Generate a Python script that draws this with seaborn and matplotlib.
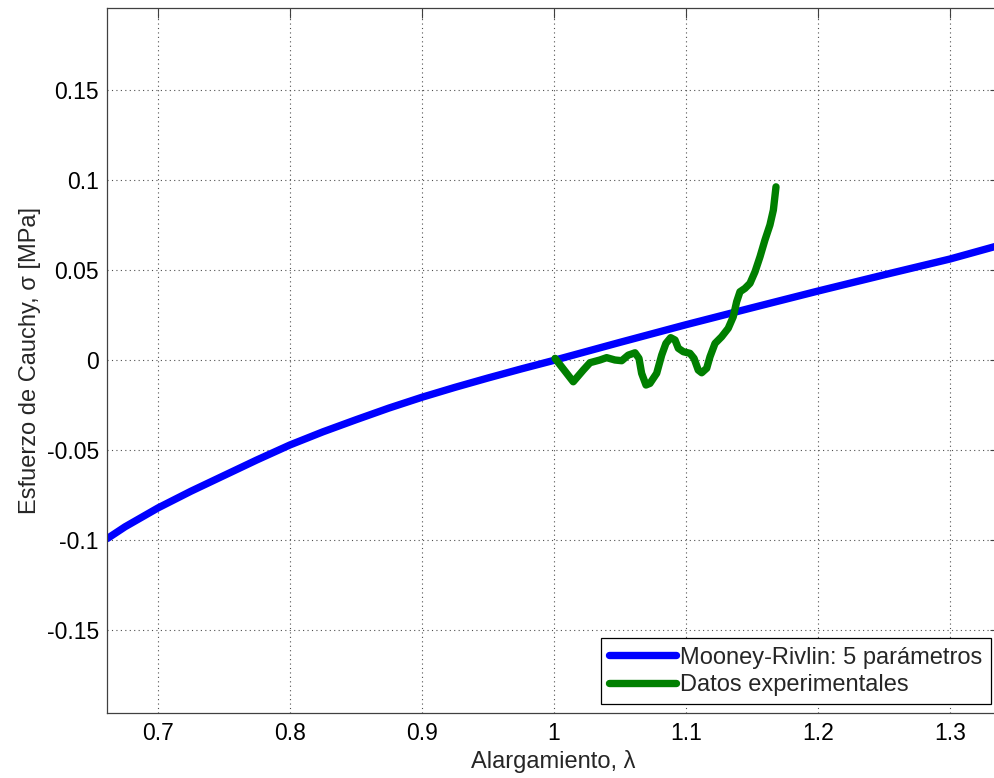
import matplotlib
matplotlib.use("Agg")
import matplotlib.pyplot as plt
import seaborn as sns
import pandas as pd

# Mooney-Rivlin (5 parameters) model curve
lam_model = [0.6616, 0.675, 0.70, 0.725, 0.75, 0.775, 0.80, 0.825, 0.85,
             0.875, 0.90, 0.925, 0.95, 0.975, 1.00, 1.05, 1.10, 1.15, 1.20,
             1.25, 1.30, 1.3379]
sig_model = [-0.0990, -0.0925, -0.0820, -0.0727, -0.0640, -0.0553, -0.0470,
             -0.0397, -0.0330, -0.0265, -0.0205, -0.0150, -0.0098, -0.0048,
             0.0, 0.0100, 0.0198, 0.0292, 0.0385, 0.0475, 0.0563, 0.0640]

# Experimental data
lam_exp = [1.0008, 1.0146, 1.0222, 1.0273, 1.0348, 1.0399, 1.0462, 1.0513,
           1.0563, 1.0614, 1.0644, 1.0664, 1.0697, 1.0727, 1.0778, 1.0816,
           1.0848, 1.0884, 1.0917, 1.0942, 1.0980, 1.1030, 1.1061, 1.1093,
           1.1119, 1.1157, 1.1182, 1.1220, 1.1270, 1.1320, 1.1358, 1.1384,
           1.1409, 1.1447, 1.1485, 1.1523, 1.1561, 1.1598, 1.1636, 1.1662,
           1.1682]
sig_exp = [0.0011, -0.0119, -0.0054, -0.0013, 0.0002, 0.0015, 0.0002, -0.0002,
           0.0029, 0.0042, 0.0011, -0.0072, -0.0137, -0.0128, -0.0072, 0.0029,
           0.0094, 0.0126, 0.0113, 0.0067, 0.0048, 0.0039, 0.0011, -0.0054,
           -0.0069, -0.0044, 0.0020, 0.0094, 0.0131, 0.0178, 0.0242, 0.0326,
           0.0381, 0.0400, 0.0428, 0.0492, 0.0576, 0.0668, 0.0752, 0.0835,
           0.0964]

x_ticks = [0.7, 0.8, 0.9, 1.0, 1.1, 1.2, 1.3]
x_tick_labels = ["0.7", "0.8", "0.9", "1", "1.1", "1.2", "1.3"]
y_ticks = [-0.15, -0.1, -0.05, 0.0, 0.05, 0.1, 0.15]
y_tick_labels = ["-0.15", "-0.1", "-0.05", "0", "0.05", "0.1", "0.15"]

model_df = pd.DataFrame({"lam": lam_model, "sig": sig_model})
exp_df = pd.DataFrame({"lam": lam_exp, "sig": sig_exp})

sns.set_theme(style="white")
plt.rcParams["font.family"] = ["Liberation Sans", "DejaVu Sans"]

fig = plt.figure(figsize=(9.94, 7.78), dpi=100)
W, H = 994.0, 778.0
ax = fig.add_axes([107.3 / W, (H - 713.3) / H, (1000 - 107.3) / W, (713.3 - 8.3) / H])

sns.lineplot(data=model_df, x="lam", y="sig", ax=ax, color="#0000ff", lw=5.3,
             sort=False, estimator=None, label="Mooney-Rivlin: 5 parámetros")
sns.lineplot(data=exp_df, x="lam", y="sig", ax=ax, color="#007f00", lw=5.3,
             sort=False, estimator=None, label="Datos experimentales")
for ln in ax.get_lines():
    ln.set_solid_joinstyle("round")

ax.set_xlim(0.6616, 1.3379)
ax.set_ylim(-0.1961, 0.1956)
ax.set_xticks(x_ticks)
ax.set_xticklabels(x_tick_labels)
ax.set_yticks(y_ticks)
ax.set_yticklabels(y_tick_labels)

ax.grid(True, linestyle=(0, (1, 3)), color="#505050", lw=0.8)
ax.tick_params(direction="in", length=7, width=0.8, color="#404040",
               top=True, right=True, labelsize=16.5, pad=6, labelcolor="black")
for sp in ax.spines.values():
    sp.set_visible(True)
    sp.set_color("#404040")
    sp.set_linewidth(0.9)

ax.set_xlabel("Alargamiento, λ", fontsize=17, labelpad=4)
ax.set_ylabel("Esfuerzo de Cauchy, σ [MPa]", fontsize=17, labelpad=4)

leg = ax.legend(loc="lower right", fontsize=17, frameon=True, fancybox=False,
                edgecolor="black", framealpha=1, borderaxespad=0.39,
                handlelength=2.8, handletextpad=0.2, borderpad=0.35,
                labelspacing=0.22)
leg.get_frame().set_linewidth(0.9)

fig.savefig("out.png", dpi=100)
